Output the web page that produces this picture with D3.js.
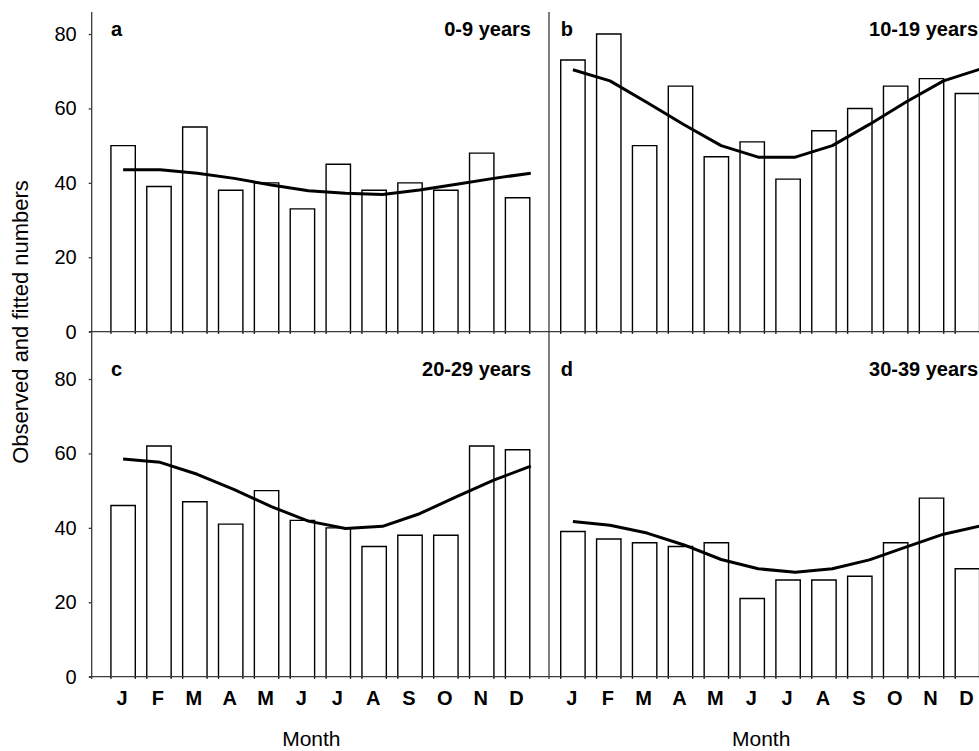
<!DOCTYPE html>
<html>
<head>
<meta charset="utf-8">
<script src="https://cdn.jsdelivr.net/npm/d3@7"></script>
<style>
  html, body { margin: 0; padding: 0; background: #fff; }
  svg { display: block; }
  text { font-family: "Liberation Sans", Arial, Helvetica, sans-serif; fill: #000; }
</style>
</head>
<body>
<svg id="chart" width="979" height="751"></svg>
<script>
const months = ["J","F","M","A","M","J","J","A","S","O","N","D"];
const monthKeys = d3.range(12);
const yTicks = [0, 20, 40, 60, 80];

const panelLetters = ["a", "b", "c", "d"];
const panelTitles = ["0-9 years", "10-19 years", "20-29 years", "30-39 years"];

const observedA = [50, 39, 55, 38, 40, 33, 45, 38, 40, 38, 48, 36];
const observedB = [73, 80, 50, 66, 47, 51, 41, 54, 60, 66, 68, 64];
const observedC = [46, 62, 47, 41, 50, 42, 40, 35, 38, 38, 62, 61];
const observedD = [39, 37, 36, 35, 36, 21, 26, 26, 27, 36, 48, 29];

const fittedA = [43.5, 43.5, 42.6, 41.2, 39.4, 37.9, 37.2, 36.9, 38.1, 39.6, 41.2, 42.6];
const fittedB = [70.4, 67.4, 61.6, 55.6, 50.0, 46.9, 46.9, 50.0, 55.7, 61.8, 67.4, 70.6];
const fittedC = [58.5, 57.6, 54.4, 50.3, 45.7, 41.8, 39.8, 40.4, 43.8, 48.4, 52.8, 56.6];
const fittedD = [41.7, 40.7, 38.6, 35.4, 31.5, 29.0, 28.1, 29.0, 31.4, 34.9, 38.3, 40.5];

const observed = [observedA, observedB, observedC, observedD];
const fitted = [fittedA, fittedB, fittedC, fittedD];

// ---- layout ----
const svg = d3.select("#chart");
const axisX = 91.7, dividerX = 549;
const colRanges = [[91.7, 549], [541.5, 998.8]];
const zeroY = [331.7, 676.7];
const unitSpan = 297.7; // pixels for 80 units
const axisTop = 12, axisBottom = 679;
const axisColor = "#3a3a3a";

const panels = [
  {col: 0, row: 0}, {col: 1, row: 0},
  {col: 0, row: 1}, {col: 1, row: 1}
];

svg.append("defs").append("clipPath").attr("id", "clip")
  .append("rect").attr("x", 0).attr("y", 0).attr("width", 979).attr("height", 751);

const root = svg.append("g").attr("clip-path", "url(#clip)");

panels.forEach((p, i) => {
  const x = d3.scaleBand().domain(monthKeys).range(colRanges[p.col])
    .paddingInner(0.32).paddingOuter(0.536);
  const y = d3.scaleLinear().domain([0, 80]).range([zeroY[p.row], zeroY[p.row] - unitSpan]);
  const bw = x.bandwidth();
  const lineX = d3.scalePoint().domain(monthKeys)
    .range([x(0) + bw / 2, x(11) + bw + 1]);

  const g = root.append("g");

  // bars: open-bottom outlines whose sides poke slightly below the baseline
  g.selectAll("path.bar").data(observed[i]).join("path")
    .attr("class", "bar")
    .attr("d", (d, k) => {
      const x0 = x(k), x1 = x(k) + bw, yb = y(0) + 2, yt = y(d);
      return `M${x0},${yb}V${yt}H${x1}V${yb}`;
    })
    .attr("fill", "#fff")
    .attr("stroke", "#000")
    .attr("stroke-width", 1.4);

  // fitted line
  const line = d3.line().x((d, k) => lineX(k)).y(d => y(d));
  g.append("path").datum(fitted[i])
    .attr("d", line)
    .attr("fill", "none")
    .attr("stroke", "#000")
    .attr("stroke-width", 3)
    .attr("stroke-linejoin", "round");

  // panel letter and title
  g.append("text")
    .attr("x", x(0))
    .attr("y", p.row === 0 ? 36 : 376)
    .attr("font-size", 20).attr("font-weight", "bold")
    .text(panelLetters[i]);
  g.append("text")
    .attr("x", p.col === 0 ? 531 : 978)
    .attr("y", p.row === 0 ? 36 : 376)
    .attr("text-anchor", "end")
    .attr("font-size", 20).attr("font-weight", "bold")
    .text(panelTitles[i]);

  // month labels for bottom row
  if (p.row === 1) {
    g.selectAll("text.month").data(months).join("text")
      .attr("class", "month")
      .attr("x", (d, k) => x(k) + bw / 2 - 1)
      .attr("y", 705)
      .attr("text-anchor", "middle")
      .attr("font-size", 20).attr("font-weight", "bold")
      .text(d => d);
    g.append("text")
      .attr("x", (colRanges[p.col][0] + colRanges[p.col][1]) / 2 - 9)
      .attr("y", 746)
      .attr("text-anchor", "middle")
      .attr("font-size", 21)
      .text("Month");
  }

  // y axis ticks (left column only)
  if (p.col === 0) {
    const ax = d3.axisLeft(y).tickValues(yTicks).tickSize(3).tickPadding(12);
    const ag = g.append("g").attr("transform", `translate(${axisX},0)`).call(ax);
    ag.select(".domain").remove();
    ag.selectAll("line").attr("stroke", axisColor).attr("stroke-width", 1.3);
    ag.selectAll("text").attr("font-size", 20)
      .attr("font-family", "'Liberation Sans', Arial, sans-serif").attr("fill", "#000");
  }
});

// x baselines
zeroY.forEach(z => {
  root.append("line").attr("x1", 89).attr("x2", 979).attr("y1", z).attr("y2", z)
    .attr("stroke", axisColor).attr("stroke-width", 1.3);
});
// vertical axis and divider
[axisX, dividerX].forEach(xv => {
  root.append("line").attr("x1", xv).attr("x2", xv).attr("y1", axisTop).attr("y2", axisBottom)
    .attr("stroke", axisColor).attr("stroke-width", 1.3);
});

// y title
svg.append("text")
  .attr("transform", "translate(28,322) rotate(-90)")
  .attr("text-anchor", "middle")
  .attr("font-size", 22)
  .text("Observed and fitted numbers");
</script>
</body>
</html>
